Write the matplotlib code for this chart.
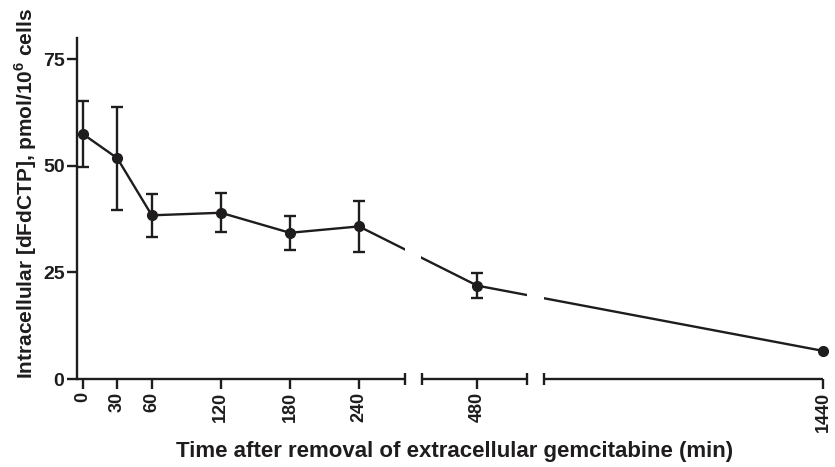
import numpy as np
import matplotlib
matplotlib.use("Agg")
import matplotlib.pyplot as plt

plt.rcParams["font.family"] = ["Liberation Sans", "DejaVu Sans"]
plt.rcParams["font.weight"] = "bold"
plt.rcParams["mathtext.fontset"] = "custom"
plt.rcParams["mathtext.bf"] = "Liberation Sans:bold"
plt.rcParams["mathtext.rm"] = "Liberation Sans:bold"

# data
time_min = [0, 30, 60, 120, 180, 240, 480, 1440]
dfdctp = [57.5, 51.8, 38.4, 39.0, 34.3, 35.8, 21.9, 6.6]
sd = [7.8, 12.1, 5.0, 4.6, 4.0, 6.0, 3.0, np.nan]
xticks = [0, 30, 60, 120, 180, 240, 480, 1440]
yticks = [0, 25, 50, 75]

# broken axis: data knots -> pixel knots
knot_data = np.array([-5.0, 280.0, 430.0, 525.0, 1150.0, 1440.0])
knot_px = np.array([77.0, 405.0, 422.0, 527.0, 544.0, 823.0])


def _interp(v, xp, fp):
    v = np.asarray(v, dtype=float)
    out = np.interp(v, xp, fp)
    lo = v < xp[0]
    hi = v > xp[-1]
    s0 = (fp[1] - fp[0]) / (xp[1] - xp[0])
    s1 = (fp[-1] - fp[-2]) / (xp[-1] - xp[-2])
    out = np.where(lo, fp[0] + (v - xp[0]) * s0, out)
    out = np.where(hi, fp[-1] + (v - xp[-1]) * s1, out)
    return out


def fwd(v):
    return _interp(v, knot_data, knot_px)


def inv(v):
    return _interp(v, knot_px, knot_data)


W, H = 835, 467
fig = plt.figure(figsize=(W / 100, H / 100), dpi=100)
ax = fig.add_axes([77 / W, (H - 379) / H, (823 - 77) / W, (379 - 38) / H])
ax.set_xscale("function", functions=(fwd, inv))
ax.set_xlim(-5, 1440)
ax.set_ylim(0, 80)

col = "#1e1c1d"
ax.errorbar(time_min, dfdctp, yerr=sd, color=col, lw=1.7, marker="o", ms=7,
            capsize=4, capthick=1.7, elinewidth=1.7, clip_on=False, zorder=3)

# white bands cut the line where the axis is broken
for a, b in [(283, 425), (525, 1150)]:
    ax.axvspan(a, b, color="white", lw=0, zorder=4)

# broken bottom axis
ax.spines["top"].set_visible(False)
ax.spines["right"].set_visible(False)
ax.spines["bottom"].set_visible(False)
ax.spines["left"].set_linewidth(1.7)
ax.spines["left"].set_color(col)
for a, b in [(-5, 280), (430, 525), (1150, 1440)]:
    ax.plot([a, b], [0, 0], color=col, lw=1.7, clip_on=False, zorder=5,
            solid_capstyle="butt")
for c in [280, 430, 525, 1150]:
    ax.plot([c], [0], marker="|", ms=9, mew=1.7, color=col, clip_on=False,
            zorder=5)

ax.set_xticks(xticks)
ax.set_xticklabels([str(t) for t in xticks], rotation=90)
ax.set_yticks(yticks)
ax.xaxis.set_minor_locator(matplotlib.ticker.NullLocator())
ax.tick_params(axis="both", length=7, width=1.7, color=col,
               labelcolor=col, pad=2)
ax.tick_params(axis="x", labelsize=13)
ax.tick_params(axis="y", labelsize=14)

ax.set_xlabel("Time after removal of extracellular gemcitabine (min)",
              fontsize=16, fontweight="bold", color=col)
ax.set_ylabel(r"Intracellular [dFdCTP], pmol/10$^{\mathbf{6}}$ cells",
              fontsize=15, fontweight="bold", color=col)
ax.xaxis.set_label_coords((455 - 77) / 746, (379 - 441) / 341)
ax.yaxis.set_label_coords((39 - 77) / 746, (379 - 194) / 341)

fig.savefig("out.png", dpi=100)
